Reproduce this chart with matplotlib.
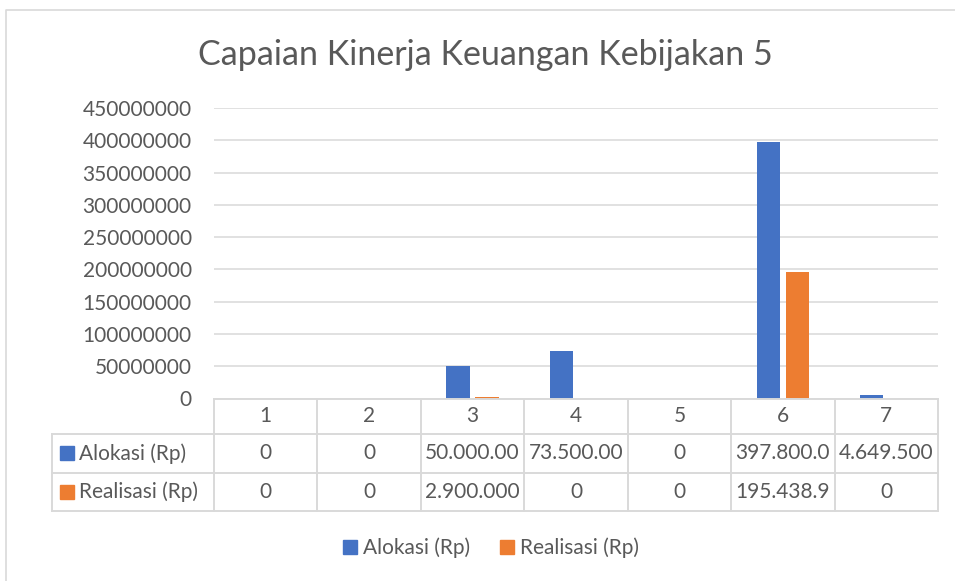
import numpy as np
import matplotlib
matplotlib.use('Agg')
import matplotlib.pyplot as plt
from matplotlib.patches import Patch, Rectangle
from matplotlib.lines import Line2D
from matplotlib.transforms import blended_transform_factory

# data
categories = ['1', '2', '3', '4', '5', '6', '7']
alokasi = [0, 0, 50000000, 73500000, 0, 397800000, 4649500]
realisasi = [0, 0, 2900000, 0, 0, 195438900, 0]
# cell text as shown in the table (Excel truncates the long numbers)
alokasi_txt = ['0', '0', '50.000.00', '73.500.00', '0', '397.800.0', '4.649.500']
realisasi_txt = ['0', '0', '2.900.000', '0', '0', '195.438.9', '0']
series_names = ['Alokasi (Rp)', 'Realisasi (Rp)']
yticks = np.arange(0, 450000001, 50000000)

BLUE, ORANGE = '#4472C4', '#ED7D31'
TXT, GRID = '#595959', '#D9D9D9'
W, H = 955, 581

plt.rcParams['font.family'] = ['Lato', 'DejaVu Sans']
fig = plt.figure(figsize=(W / 100, H / 100), dpi=100)

def fx(p):  # pixel -> figure fraction
    return p / W

def fy(p):
    return 1 - p / H

y0, ytop, left, right = 398.5, 108, 214, 938
ax = fig.add_axes([fx(left), fy(y0), fx(right - left), (y0 - ytop) / H])

x = np.arange(1, len(categories) + 1)
ax.bar(x - 0.14, alokasi, width=0.225, color=BLUE, zorder=3)
ax.bar(x + 0.14, realisasi, width=0.225, color=ORANGE, zorder=3)
ax.set_xlim(0.5, len(categories) + 0.5)
ax.set_ylim(0, 450000000)
ax.set_yticks(yticks)
ax.set_yticklabels([str(v) for v in yticks])
ax.set_xticks([])
ax.tick_params(axis='y', length=0, pad=16, labelsize=15, labelcolor=TXT)
ax.grid(axis='y', color=GRID, lw=1.1, zorder=0)
for s in ax.spines.values():
    s.set_visible(False)

# table under the chart
bt = blended_transform_factory(ax.transData, fig.transFigure)
rows_y = [398.5, 434, 472.5, 511]
lkw = dict(color=GRID, lw=1.4, clip_on=False)
for yy in rows_y:
    x_start = left if yy == rows_y[0] else 52
    fig.add_artist(Line2D([fx(x_start), fx(right)], [fy(yy), fy(yy)],
                          transform=fig.transFigure, **lkw))
for i in range(len(categories) + 1):
    ax.add_line(Line2D([0.5 + i, 0.5 + i], [fy(rows_y[0]), fy(rows_y[-1])],
                       transform=bt, **lkw))
fig.add_artist(Line2D([fx(52), fx(52)], [fy(rows_y[1]), fy(rows_y[-1])],
                      transform=fig.transFigure, **lkw))

row_mid = [(rows_y[k] + rows_y[k + 1]) / 2 for k in range(3)]
for i, c in enumerate(categories):
    ax.text(x[i], fy(row_mid[0]), c, transform=bt, ha='center', va='center',
            fontsize=15, color=TXT, clip_on=False)
    ax.text(x[i], fy(row_mid[1]), alokasi_txt[i], transform=bt, ha='center',
            va='center', fontsize=15, color=TXT, clip_on=False)
    ax.text(x[i], fy(row_mid[2]), realisasi_txt[i], transform=bt, ha='center',
            va='center', fontsize=15, color=TXT, clip_on=False)

for k, (name, col) in enumerate(zip(series_names, [BLUE, ORANGE])):
    ym = row_mid[k + 1]
    fig.add_artist(Rectangle((fx(60), fy(ym + 7)), fx(14), 14 / H,
                             transform=fig.transFigure, color=col))
    fig.text(fx(79), fy(ym), name, ha='left', va='center', fontsize=15, color=TXT)

# chart frame (top and left edges visible)
fig.add_artist(Line2D([fx(6), fx(6), fx(W)], [0, fy(9.5), fy(9.5)],
                      transform=fig.transFigure, color=GRID, lw=1.2))

fig.text(fx(485), fy(55), 'Capaian Kinerja Keuangan Kebijakan 5',
         ha='center', va='center', fontsize=24.5, color=TXT)

handles = [Patch(color=BLUE), Patch(color=ORANGE)]
fig.legend(handles, series_names, loc='center', bbox_to_anchor=(fx(491), fy(548)),
           ncol=2, frameon=False, fontsize=15, labelcolor=TXT,
           handlelength=0.7, handleheight=0.7, handletextpad=0.3,
           columnspacing=1.4)

fig.savefig('out.png', dpi=100)
